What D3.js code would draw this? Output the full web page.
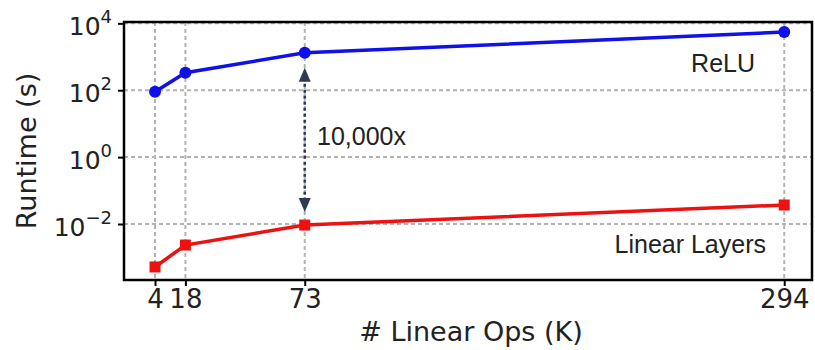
<!DOCTYPE html>
<html>
<head>
<meta charset="utf-8">
<script src="https://cdn.jsdelivr.net/npm/d3@7"></script>
<style>
  body { margin: 0; background: #fff; }
  svg { display: block; }
</style>
</head>
<body>
<svg id="chart"></svg>
<script>
// data
var linearOps = [4, 18, 73, 294]
var reluTime = [90, 333, 1320, 5500]
var linearTime = [0.00052, 0.00235, 0.0093, 0.037]
var yTickPowers = [-2, 0, 2, 4]
var gapLabel = '10,000x'

var width = 815
var height = 350
// note: "top" is a reserved window prop, so use plot* names
var plotLeft = 124, plotRight = 812, plotTop = 22, plotBottom = 280

var svg = d3.select('#chart')
    .attr('width', width)
    .attr('height', height)

var x = d3.scaleLinear()
    .domain([-10.3, 306.8])
    .range([plotLeft, plotRight])

var y = d3.scaleLog()
    .domain([Math.pow(10, -3.674), Math.pow(10, 4.04)])
    .range([plotBottom, plotTop])

var yTicks = yTickPowers.map(p => Math.pow(10, p))

// grid
var grid = svg.append('g')
    .attr('stroke', '#b3b3b3')
    .attr('stroke-width', 2)
    .attr('stroke-dasharray', '4,3')

grid.selectAll('.gy')
    .data(yTicks)
    .enter().append('line')
    .attr('x1', plotLeft).attr('x2', plotRight)
    .attr('y1', d => y(d)).attr('y2', d => y(d))

grid.selectAll('.gx')
    .data(linearOps)
    .enter().append('line')
    .attr('x1', d => x(d)).attr('x2', d => x(d))
    .attr('y1', plotTop).attr('y2', plotBottom)

// axes
var xAxis = svg.append('g')
    .attr('transform', 'translate(0,' + plotBottom + ')')
    .call(d3.axisBottom(x).tickValues(linearOps).tickSize(6).tickPadding(4))

var yAxis = svg.append('g')
    .attr('transform', 'translate(' + plotLeft + ',0)')
    .call(d3.axisLeft(y).tickValues(yTicks).tickSize(6).tickPadding(6).tickFormat(''))

svg.selectAll('.domain').remove()
svg.selectAll('.tick line').attr('stroke', '#000').attr('stroke-width', 2)

xAxis.selectAll('text')
    .attr('font-family', 'DejaVu Sans')
    .attr('font-size', 26)
    .attr('fill', '#222')

yAxis.selectAll('.tick text')
    .data(yTickPowers)
    .attr('font-family', 'DejaVu Sans')
    .attr('font-size', 25)
    .attr('fill', '#222')
    .attr('dy', '0.45em')
    .each(function(p) {
        var t = d3.select(this)
        t.append('tspan').text('10')
        t.append('tspan')
            .attr('font-size', 18)
            .attr('dy', '-0.65em')
            .text(p < 0 ? '\u2212' + (-p) : String(p))
    })

// frame
svg.append('rect')
    .attr('x', plotLeft).attr('y', plotTop)
    .attr('width', plotRight - plotLeft).attr('height', plotBottom - plotTop)
    .attr('fill', 'none')
    .attr('stroke', '#000')
    .attr('stroke-width', 2.5)

// series
var line = d3.line()
    .x(d => x(d[0]))
    .y(d => y(d[1]))

var relu = d3.zip(linearOps, reluTime)
var lin = d3.zip(linearOps, linearTime)

svg.append('path')
    .datum(relu)
    .attr('fill', 'none')
    .attr('stroke', '#1010e8')
    .attr('stroke-width', 3.5)
    .attr('d', line)

svg.selectAll('.dot')
    .data(relu)
    .enter().append('circle')
    .attr('cx', d => x(d[0]))
    .attr('cy', d => y(d[1]))
    .attr('r', 6)
    .attr('fill', '#1010e8')

svg.append('path')
    .datum(lin)
    .attr('fill', 'none')
    .attr('stroke', '#ee1111')
    .attr('stroke-width', 3.5)
    .attr('d', line)

svg.selectAll('.sq')
    .data(lin)
    .enter().append('rect')
    .attr('x', d => x(d[0]) - 5.5)
    .attr('y', d => y(d[1]) - 5.5)
    .attr('width', 11)
    .attr('height', 11)
    .attr('fill', '#ee1111')

// gap arrow at the third point
var ax = x(linearOps[2])
var yTopArrow = y(reluTime[2]) + 15
var yBotArrow = y(linearTime[2]) - 13
var arrowColor = '#2d3a52'

svg.append('line')
    .attr('x1', ax).attr('x2', ax)
    .attr('y1', yTopArrow + 10).attr('y2', yBotArrow - 10)
    .attr('stroke', arrowColor)
    .attr('stroke-width', 2.5)
    .attr('stroke-dasharray', '3,3')

svg.append('path')
    .attr('d', 'M' + ax + ',' + yTopArrow + 'l-6,14h12z')
    .attr('fill', arrowColor)

svg.append('path')
    .attr('d', 'M' + ax + ',' + yBotArrow + 'l-6,-14h12z')
    .attr('fill', arrowColor)

var note = svg.append('g')
    .attr('font-family', 'Liberation Sans, Arial, sans-serif')
    .attr('font-size', 25)
    .attr('fill', '#222')

note.append('text')
    .attr('x', 317).attr('y', 145)
    .text(gapLabel)

note.append('text')
    .attr('x', 755).attr('y', 72)
    .attr('text-anchor', 'end')
    .text('ReLU')

note.append('text')
    .attr('x', 766).attr('y', 253)
    .attr('text-anchor', 'end')
    .text('Linear Layers')

// axis titles
svg.append('text')
    .attr('transform', 'translate(36,' + ((plotTop + plotBottom) / 2) + ') rotate(-90)')
    .attr('text-anchor', 'middle')
    .attr('font-family', 'DejaVu Sans')
    .attr('font-size', 27)
    .attr('fill', '#222')
    .text('Runtime (s)')

svg.append('text')
    .attr('x', 471).attr('y', 341)
    .attr('text-anchor', 'middle')
    .attr('font-family', 'DejaVu Sans')
    .attr('font-size', 27)
    .attr('fill', '#222')
    .text('# Linear Ops (K)')
</script>
</body>
</html>
